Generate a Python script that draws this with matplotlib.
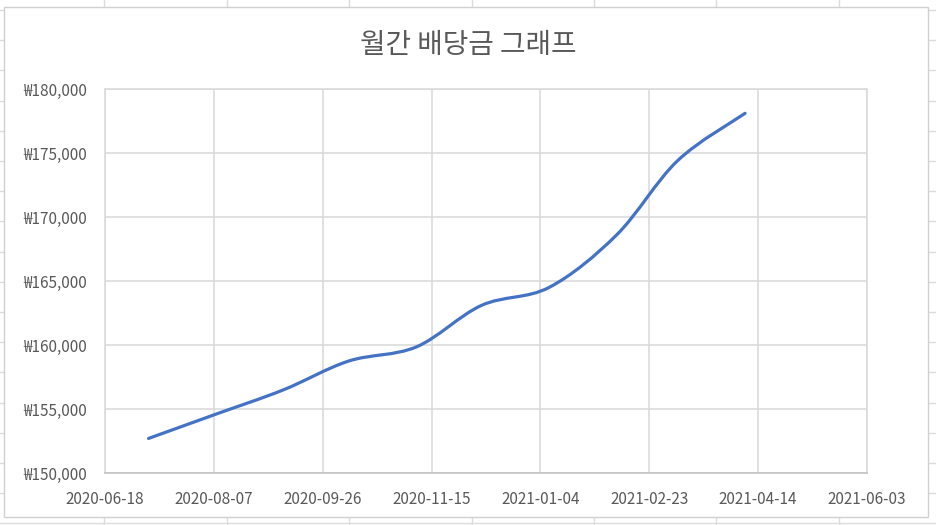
"""
월간 배당금 그래프 (Excel 스타일 재현)
"""
import matplotlib
matplotlib.use("Agg")
import matplotlib.pyplot as plt
import matplotlib.dates as mdates
from matplotlib.path import Path
from matplotlib.patches import PathPatch, Rectangle
from matplotlib.lines import Line2D
import numpy as np
import pandas as pd

plt.rcParams['font.family'] = ['Noto Sans CJK KR', 'DejaVu Sans']

# 데이터
dates = ['2020-07-08', '2020-08-08', '2020-09-08', '2020-10-08', '2020-11-08',
         '2020-12-08', '2021-01-08', '2021-02-08', '2021-03-08', '2021-04-08']
dividends = [152700, 154600, 156500, 158750, 159850,
             163100, 164500, 168600, 174400, 178100]

title = '월간 배당금 그래프'
x_start = '2020-06-18'
x_step_days = 50
y_ticks = [150000, 155000, 160000, 165000, 170000, 175000, 180000]

W, H = 936, 525
fig = plt.figure(figsize=(W / 100, H / 100), dpi=100)
fig.patch.set_facecolor('white')

# 배경 스프레드시트 격자
sheet_color = '#dcdcdc'
for px in [104, 227, 349, 472, 594, 716, 839]:
    fig.add_artist(Line2D([px / W, px / W], [0, 1], color=sheet_color, lw=1, zorder=0))
for py in np.arange(10, 525, 30.2):
    fig.add_artist(Line2D([0, 1], [1 - py / H, 1 - py / H], color=sheet_color, lw=1, zorder=0))

# 차트 영역
fig.add_artist(Rectangle((4 / W, 1 - 517 / H), 924 / W, 510 / H,
                         facecolor='white', edgecolor='#d0d0d0', lw=1, zorder=1))

ax = fig.add_axes([105 / W, 1 - 473 / H, 762 / W, 384 / H], zorder=2)
ax.set_facecolor('white')

x = mdates.date2num(pd.to_datetime(dates))
y = np.array(dividends, dtype=float)

# Excel 부드러운 선: 베지어 곡선으로 그리기
pts = np.column_stack([x, y])
verts = [pts[0]]
codes = [Path.MOVETO]
n = len(pts)
for i in range(n - 1):
    p0 = pts[i - 1] if i > 0 else pts[i]
    p1 = pts[i]
    p2 = pts[i + 1]
    p3 = pts[i + 2] if i + 2 < n else pts[i + 1]
    c1 = p1 + (p2 - p0) / 6
    c2 = p2 - (p3 - p1) / 6
    verts += [c1, c2, p2]
    codes += [Path.CURVE4] * 3
ax.add_patch(PathPatch(Path(verts, codes), facecolor='none', edgecolor='#4472C4',
                       lw=2.3, capstyle='round', joinstyle='round', zorder=3))

x0 = mdates.date2num(pd.Timestamp(x_start))
xt = [x0 + k * x_step_days for k in range(8)]
ax.set_xlim(xt[0], xt[-1])
ax.set_xticks(xt)
ax.xaxis.set_major_formatter(mdates.DateFormatter('%Y-%m-%d'))
ax.set_ylim(y_ticks[0], y_ticks[-1])
ax.set_yticks(y_ticks)
ax.set_yticklabels([f'₩{v:,}' for v in y_ticks])

ax.grid(True, color='#d9d9d9', lw=1.1)
ax.set_axisbelow(True)
for side, sp in ax.spines.items():
    sp.set_color('#d9d9d9')
    sp.set_linewidth(1.1)
ax.spines['bottom'].set_color('#bfbfbf')
ax.tick_params(length=0, colors='#595959', labelsize=11)
ax.tick_params(axis='y', pad=13)
ax.tick_params(axis='x', pad=13)

fig.text(468 / W, 1 - 45 / H, title, ha='center', va='center',
         fontsize=20, color='#595959', zorder=3)

fig.savefig('out.png', dpi=100)
